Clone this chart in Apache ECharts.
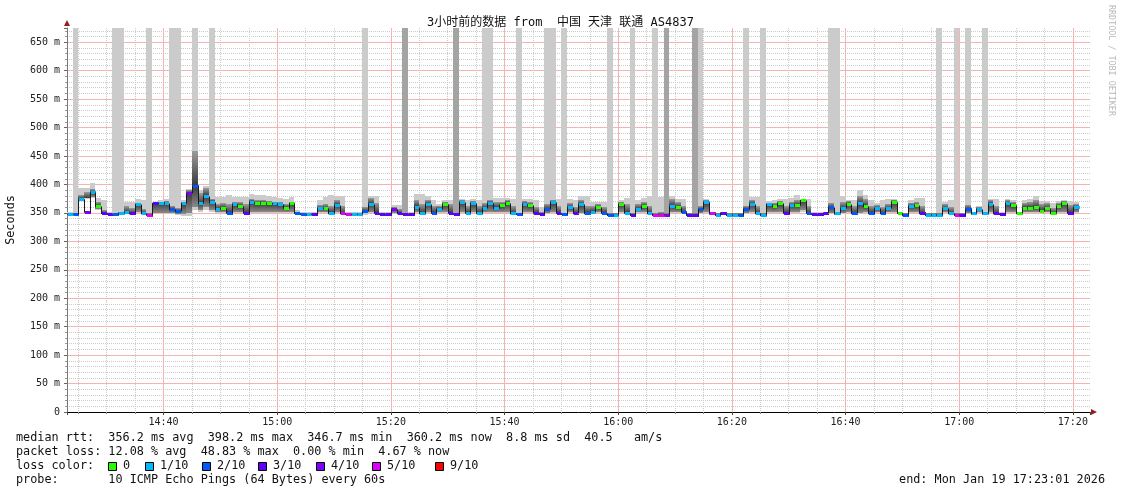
<!DOCTYPE html>
<html><head><meta charset="utf-8">
<script src="https://cdn.jsdelivr.net/npm/echarts@6/dist/echarts.min.js"></script>
<style>html,body{margin:0;padding:0;background:#fff}#c{width:1121px;height:494px}</style>
</head><body><div id="c"></div>
<script>
// ---------------- data ----------------
const TITLE = '3小时前的数据 from  中国 天津 联通 AS4837';
// x axis unit: minutes after 14:20:00
const AXIS_START = 3 + 1 / 60;   // 14:23:01
const AXIS_END = 183 + 1 / 60;   // 17:23:01
const FIRST_BIN = 3;             // first 60 s bin starts 14:23:00
const ABOVE = 9999;              // ping above graph range

const median = [
 348,348,375,352,386,362,349,348,348,350,
 351,349,365,349,347,367,368,368,357,353,
 367,385,398,367,380,370,357,358,350,365,
 362,350,370,367,368,367,367,365,359,367,
 350,348,348,348,358,358,350,364,349,348,
 348,348,353,366,350,348,348,357,349,348,
 348,361,349,366,350,357,366,350,348,369,
 350,367,350,358,368,359,363,368,349,348,
 366,363,350,348,357,369,350,348,360,349,
 365,350,352,360,350,347,347,366,350,347,
 357,362,349,347,347,347,362,360,351,347,
 347,356,369,350,347,349,347,347,347,357,
 366,349,347,365,362,367,350,364,364,372,
 350,348,348,349,360,349,358,366,349,367,
 362,350,358,349,358,370,350,347,362,363,
 349,347,347,347,358,349,347,347,357,349,
 357,349,366,349,348,367,363,350,359,359,
 360,354,358,349,362,368,350,360,null,null];
// index into lossColors / lossLabels
const lossIdx = [
 1,2,1,4,1,0,3,3,2,1,
 1,3,1,1,5,3,1,1,2,2,
 1,4,2,1,1,1,1,0,2,1,
 0,3,1,0,0,0,1,1,0,0,
 2,2,1,3,1,0,1,1,5,5,
 1,1,2,1,3,3,3,4,3,3,
 3,1,1,1,2,1,0,3,3,1,
 1,1,1,1,1,1,0,0,1,2,
 1,0,3,3,2,1,3,2,1,3,
 1,2,1,0,2,2,1,0,1,3,
 1,0,1,5,5,4,1,0,2,3,
 3,2,1,5,1,3,1,1,2,2,
 1,1,1,1,0,0,3,1,0,0,
 2,3,3,3,2,1,1,0,2,1,
 0,2,1,2,1,0,0,2,1,0,
 3,1,1,1,1,1,5,3,2,1,
 1,1,1,3,3,1,0,0,0,0,
 0,0,0,0,0,0,3,1,null,null];
const smokeLo = [
 346,346,372,375,376,355,348,346,346,347,
 348,347,350,347,346,350,350,348,348,347,
 345,345,355,352,355,352,350,350,348,350,
 350,348,350,350,350,350,350,350,350,350,
 348,346,346,346,350,350,347,350,347,346,
 346,346,347,350,348,346,346,348,347,346,
 346,350,347,350,348,350,350,348,346,350,
 348,350,348,350,350,350,350,350,347,346,
 350,350,348,346,350,350,348,346,350,347,
 348,347,348,350,348,345,345,350,348,345,
 350,350,347,345,345,345,350,350,348,345,
 345,348,350,347,345,347,345,345,345,348,
 350,347,345,350,350,350,348,350,350,352,
 348,346,346,347,348,347,348,350,347,348,
 350,347,350,347,350,350,348,345,350,350,
 347,345,345,345,350,347,345,345,348,347,
 350,347,350,347,346,350,350,348,350,350,
 350,350,350,347,350,350,348,350,null,null];
const A = ABOVE;
const smokeHi = [
 351,A,394,394,402,377,372,351,A,A,
 369,369,375,372,A,369,372,374,A,A,
 373,392,A,391,398,A,378,378,381,378,
 378,378,383,381,381,379,378,376,375,378,
 355,351,351,351,372,378,381,380,380,351,
 351,351,A,380,380,352,351,363,363,A,
 351,384,384,380,372,365,372,372,A,374,
 372,374,372,A,A,377,377,377,375,A,
 375,375,372,360,A,A,374,A,374,372,
 380,380,370,370,370,A,350,373,377,A,
 373,377,380,A,378,A,380,375,375,350,
 A,A,375,352,350,352,350,350,350,A,
 378,378,A,371,373,375,375,377,381,375,
 375,351,351,352,A,A,380,373,373,390,
 381,373,367,373,375,375,352,350,372,376,
 376,350,350,A,370,372,A,350,A,352,
 362,A,375,375,351,375,373,352,372,375,
 380,371,371,367,371,373,371,370,null,null];
// steps where the second-highest ping band is also above range
const above2Steps = [59, 68, 105, 110];
const coreLo = [
 346,346,372,376,378,356,348,346,346,347,
 349,348,352,348,346,350,350,350,350,348,
 348,350,360,355,360,355,352,352,349,352,
 352,349,352,352,352,352,352,352,351,352,
 348,346,346,346,351,351,348,352,348,346,
 346,346,350,352,349,346,346,350,348,346,
 346,352,348,352,349,351,352,349,346,352,
 349,352,349,352,352,352,352,352,348,346,
 352,352,349,346,350,352,349,346,351,348,
 350,348,349,351,349,345,345,352,349,345,
 351,352,348,345,346,345,352,352,349,345,
 345,350,352,347,345,347,345,345,345,350,
 352,348,345,352,351,352,349,352,352,355,
 349,346,346,347,350,347,350,352,348,350,
 352,348,351,348,351,352,348,345,351,352,
 348,345,345,345,351,348,345,345,350,347,
 351,347,352,348,346,352,352,348,352,352,
 352,351,351,348,352,352,349,351,null,null];
const coreHi = [
 350,350,382,386,392,370,355,350,350,352,
 362,358,368,356,350,368,370,371,362,358,
 370,390,458,385,393,375,365,368,365,370,
 370,365,375,372,372,371,370,369,366,370,
 352,350,350,350,364,366,362,372,362,350,
 350,350,360,376,368,350,350,360,356,350,
 350,372,365,372,362,362,370,365,350,372,
 362,371,362,368,372,370,370,372,362,350,
 371,369,360,352,365,372,362,350,368,360,
 372,362,362,365,360,349,349,370,365,349,
 366,370,362,349,352,349,374,370,362,349,
 349,362,373,351,349,351,349,349,349,362,
 372,362,349,368,368,371,362,370,372,373,
 362,350,350,351,368,352,370,371,362,380,
 375,362,364,360,366,372,351,349,368,370,
 362,349,349,349,366,360,349,349,364,351,
 360,352,372,362,350,372,370,351,368,370,
 372,366,368,358,368,371,364,366,null,null];

const lossColors = ['#26ff00', '#00b8ff', '#0059ff', '#5e00ff', '#7e00ff', '#dd00ff', '#ff0000'];
const lossLabels = ['0', '1/10', '2/10', '3/10', '4/10', '5/10', '9/10'];
const statLines = [
  'median rtt:  356.2 ms avg  398.2 ms max  346.7 ms min  360.2 ms now  8.8 ms sd  40.5   am/s',
  'packet loss: 12.08 % avg  48.83 % max  0.00 % min  4.67 % now',
  'loss color:',
  'probe:       10 ICMP Echo Pings (64 Bytes) every 60s'
];
const endText = 'end: Mon Jan 19 17:23:01 2026';
const watermark = 'RRDTOOL / TOBI OETIKER';

// ---------------- chart ----------------
const MONO = '"DejaVu Sans Mono", "Noto Sans CJK SC", monospace';
const chart = echarts.init(document.getElementById('c'), null, {renderer: 'canvas'});

const items = [];
median.forEach((m, i) => {
  if (m == null) return;
  items.push([FIRST_BIN + i, FIRST_BIN + i + 1, smokeLo[i], smokeHi[i], coreLo[i], coreHi[i], m,
    lossIdx[i], above2Steps.indexOf(i) >= 0 ? 1 : 0, i > 0 && median[i - 1] != null ? median[i - 1] : m]);
});

function renderStep(params, api) {
  const cs = params.coordSys;
  const top = cs.y, bottom = cs.y + cs.height, left = cs.x, right = cs.x + cs.width;
  const cy = v => Math.max(top, Math.min(bottom, api.coord([AXIS_START, v])[1]));
  const xa = Math.round(Math.max(left, api.coord([api.value(0), 0])[0]));
  const xb = Math.round(Math.min(right, api.coord([api.value(1), 0])[0]));
  if (xb <= xa) return null;
  const w = xb - xa;
  const lo = api.value(2), hi = api.value(3), cl = api.value(4), ch = api.value(5);
  const md = api.value(6), li = api.value(7), dark = api.value(8), prev = api.value(9);
  const yHi = Math.round(cy(hi)), yLo = Math.round(cy(lo));
  const yCh = Math.round(cy(ch)), yCl = Math.round(cy(cl));
  const ym = cy(md), yp = cy(prev);
  const children = [];
  if (yLo > yHi) children.push({type: 'rect', shape: {x: xa, y: yHi, width: w, height: yLo - yHi},
    style: {fill: dark ? '#a4a4a4' : '#cbcbcb'}});
  if (yCl > yCh) {
    const f = Math.max(0, Math.min(1, (ym - yCh) / (yCl - yCh)));
    children.push({type: 'rect', shape: {x: xa, y: yCh, width: w, height: yCl - yCh},
      style: {fill: new echarts.graphic.LinearGradient(0, 0, 0, 1, [
        {offset: 0, color: '#9c9c9c'}, {offset: f, color: '#3a3a3a'}, {offset: 1, color: '#8a8a8a'}])}});
  }
  const ymr = Math.round(ym) + 0.5, ypr = Math.round(yp) + 0.5;
  children.push({type: 'polyline', shape: {points: [[xa + 0.5, ypr], [xa + 0.5, ymr], [xb + 0.5, ymr]]},
    style: {stroke: '#1a1a1a', lineWidth: 1, fill: null}});
  children.push({type: 'rect', shape: {x: xa + 1, y: Math.round(ym) - 1, width: w, height: 3},
    style: {fill: lossColors[li]}});
  return {type: 'group', children};
}

const fmtTime = v => {
  const t = Math.round(14 * 60 + 20 + v);
  const h = Math.floor(t / 60), mi = t % 60;
  return h + ':' + (mi < 10 ? '0' : '') + mi;
};

const GRID = {left: 67, top: 28, width: 1023, height: 384, containLabel: false, outerBoundsMode: 'none'};
const MAJOR = {color: '#f5b3b3', type: 'solid', width: 1};
const MINOR = {color: '#cbcbcb', type: [1, 1], width: 1};
const legendBoxX = [108, 145, 202, 258, 316, 372, 435];
const graphics = [];
statLines.forEach((t, k) => graphics.push({type: 'text', x: 16, y: 438 + k * 14, silent: true,
  style: {text: t, font: '11.8px ' + MONO, fill: '#111', verticalAlign: 'middle'}}));
lossLabels.forEach((lab, k) => {
  graphics.push({type: 'rect', silent: true, shape: {x: legendBoxX[k] + 0.5, y: 462.5, width: 8, height: 8},
    style: {fill: lossColors[k], stroke: '#000', lineWidth: 1}});
  graphics.push({type: 'text', silent: true, x: legendBoxX[k] + 15, y: 466,
    style: {text: lab, font: '11.8px ' + MONO, fill: '#111', verticalAlign: 'middle'}});
});
graphics.push({type: 'text', silent: true, x: 1105, y: 480,
  style: {text: endText, font: '11.8px ' + MONO, fill: '#111', align: 'right', verticalAlign: 'middle'}});
graphics.push({type: 'text', silent: true, x: 1111, y: 5, rotation: -Math.PI / 2,
  style: {text: watermark, font: '8.4px ' + MONO, fill: '#b9b9b9', align: 'left', verticalAlign: 'middle'}});
// axis arrows
graphics.push({type: 'polygon', silent: true, shape: {points: [[GRID.left - 3, 26], [GRID.left + 3, 26], [GRID.left, 20]]},
  style: {fill: '#9b1c1c'}});
graphics.push({type: 'polygon', silent: true, shape: {points: [[1091, 409], [1091, 415], [1097, 412]]},
  style: {fill: '#9b1c1c'}});

const hiddenParts = {axisLine: {show: false}, axisTick: {show: false}, axisLabel: {show: false}};

chart.setOption({
  animation: false,
  backgroundColor: '#ffffff',
  title: {text: TITLE, left: 'center', top: 12,
    textStyle: {fontFamily: MONO, fontSize: 12, fontWeight: 'normal', color: '#111'}},
  grid: GRID,
  xAxis: [Object.assign({
    type: 'value', min: AXIS_START, max: AXIS_END, minInterval: 5, maxInterval: 5, z: 0,
    splitLine: {show: true, showMinLine: false, showMaxLine: false, lineStyle: MINOR}
  }, hiddenParts), {
    type: 'value', min: AXIS_START, max: AXIS_END, minInterval: 20, maxInterval: 20, z: 1,
    position: 'bottom',
    axisLine: {show: true, lineStyle: {color: '#000', width: 1}},
    axisTick: {show: true, length: 3, lineStyle: {color: '#444'}},
    minorTick: {show: true, splitNumber: 4, length: 2, lineStyle: {color: '#888'}},
    axisLabel: {formatter: fmtTime, showMinLabel: false, showMaxLabel: false,
      fontFamily: MONO, fontSize: 10, color: '#222', margin: 5},
    splitLine: {show: true, interval: 0, showMinLine: false, showMaxLine: false, lineStyle: MAJOR},
    minorSplitLine: {show: false}
  }],
  yAxis: [Object.assign({
    type: 'value', min: 0, max: 675, interval: 10, z: 0,
    splitLine: {show: true, showMinLine: false, showMaxLine: false, lineStyle: MINOR}
  }, hiddenParts), {
    type: 'value', min: 0, max: 675, interval: 50, z: 1, position: 'left',
    name: 'Seconds', nameLocation: 'middle', nameGap: 50, nameRotate: 90,
    nameTextStyle: {fontFamily: MONO, fontSize: 11.8, color: '#111'},
    axisLine: {show: true, lineStyle: {color: '#777', width: 1}},
    axisTick: {show: true, length: 3, lineStyle: {color: '#666'}},
    minorTick: {show: true, splitNumber: 5, length: 2, lineStyle: {color: '#999'}},
    axisLabel: {formatter: v => (v === 0 ? '0' : v + ' m'), showMaxLabel: false,
      fontFamily: MONO, fontSize: 10, color: '#222', margin: 7},
    splitLine: {show: true, interval: 0, showMinLine: false, showMaxLine: false, lineStyle: MAJOR},
    minorSplitLine: {show: false}
  }],
  series: [{
    type: 'custom', renderItem: renderStep, data: items, clip: true, silent: true, z: 3,
    xAxisIndex: 1, yAxisIndex: 1,
    encode: {x: [0, 1], y: [2, 6]}
  }],
  graphic: graphics
});
</script>
</body></html>
